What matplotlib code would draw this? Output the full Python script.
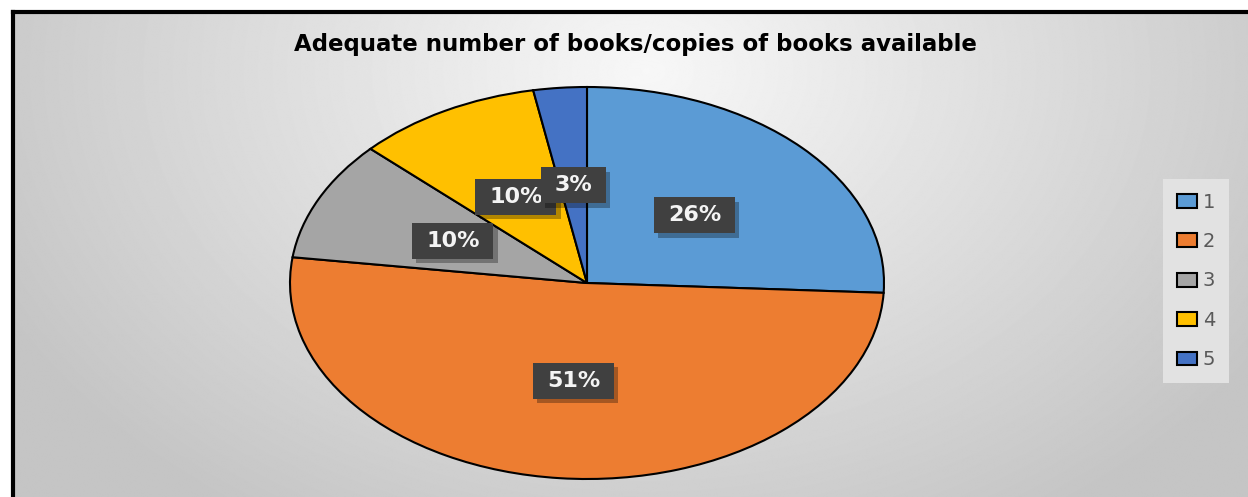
import numpy as np
import matplotlib
matplotlib.use("Agg")
import matplotlib.pyplot as plt
import matplotlib.patheffects as pe
from matplotlib.path import Path

# data
categories = ["1", "2", "3", "4", "5"]
shares = [25.8, 51.3, 9.9, 10.1, 2.9]
colors = ["#5B9BD5", "#ED7D31", "#A5A5A5", "#FFC000", "#4472C4"]
title = "Adequate number of books/copies of books available"

W, H = 1248, 497
fig = plt.figure(figsize=(W / 100, H / 100), dpi=100)
fig.patch.set_facecolor("white")

# gradient background inside the chart frame
bg = fig.add_axes([13 / W, 0, 1 - 13 / W, 1 - 12 / H])
yy, xx = np.mgrid[0:H, 0:W]
d = np.sqrt(((xx - 640) / 700.0) ** 2 + ((yy - 60) / 520.0) ** 2)
shade = np.clip(0.97 - 0.19 * d, 0.77, 0.97)
bg.imshow(shade, cmap="gray", vmin=0, vmax=1, aspect="auto",
          extent=[0, 1, 0, 1], origin="upper")
bg.set_xlim(0, 1)
bg.set_ylim(0, 1)
bg.set_xticks([])
bg.set_yticks([])
for s in ["right", "bottom"]:
    bg.spines[s].set_visible(False)
for s in ["left", "top"]:
    bg.spines[s].set_linewidth(3)
    bg.spines[s].set_color("black")


# label box, wider than tall like the excel data labels
def label_box(x0, y0, width, height, mutation_size):
    px = 0.62 * mutation_size
    py = 0.36 * mutation_size
    x0, y0 = x0 - px, y0 - py
    x1, y1 = x0 + width + 2 * px, y0 + height + 2 * py
    return Path([(x0, y0), (x1, y0), (x1, y1), (x0, y1), (x0, y0)], closed=True)


# pie (stretched horizontally like the original)
ax = fig.add_axes([290 / W, (H - 479) / H, 594 / W, 392 / H])
ax.patch.set_visible(False)
wedges, texts, autotexts = ax.pie(
    shares, colors=colors, startangle=90, counterclock=False,
    autopct="%.0f%%", pctdistance=0.5,
    wedgeprops=dict(edgecolor="black", linewidth=1.5),
    textprops=dict(color="#f4f4f4", fontsize=16, fontweight="bold"))
ax.set_aspect("auto")
ax.set_xlim(-1, 1)
ax.set_ylim(-1, 1)
ax.axis("off")

for t in autotexts:
    t.set_bbox(dict(boxstyle=label_box, facecolor="#404040", edgecolor="none"))
    t.get_bbox_patch().set_path_effects(
        [pe.SimplePatchShadow(offset=(3, -3), shadow_rgbFace="black", alpha=0.3), pe.Normal()])

fig.text(635 / W, 1 - 45 / H, title, ha="center", va="center",
         fontsize=16.5, fontweight="bold", color="black")

leg = ax.legend(wedges, categories, loc="center",
                bbox_to_anchor=(1196 / W, 1 - 281 / H), bbox_transform=fig.transFigure,
                frameon=True, fancybox=False, framealpha=1,
                facecolor="#e2e2e2", edgecolor="none",
                fontsize=14, labelcolor="#595959",
                handlelength=1.05, handleheight=0.7, handletextpad=0.3,
                labelspacing=1.05, borderpad=0.7)

fig.savefig("out.png", dpi=100, facecolor="white")
